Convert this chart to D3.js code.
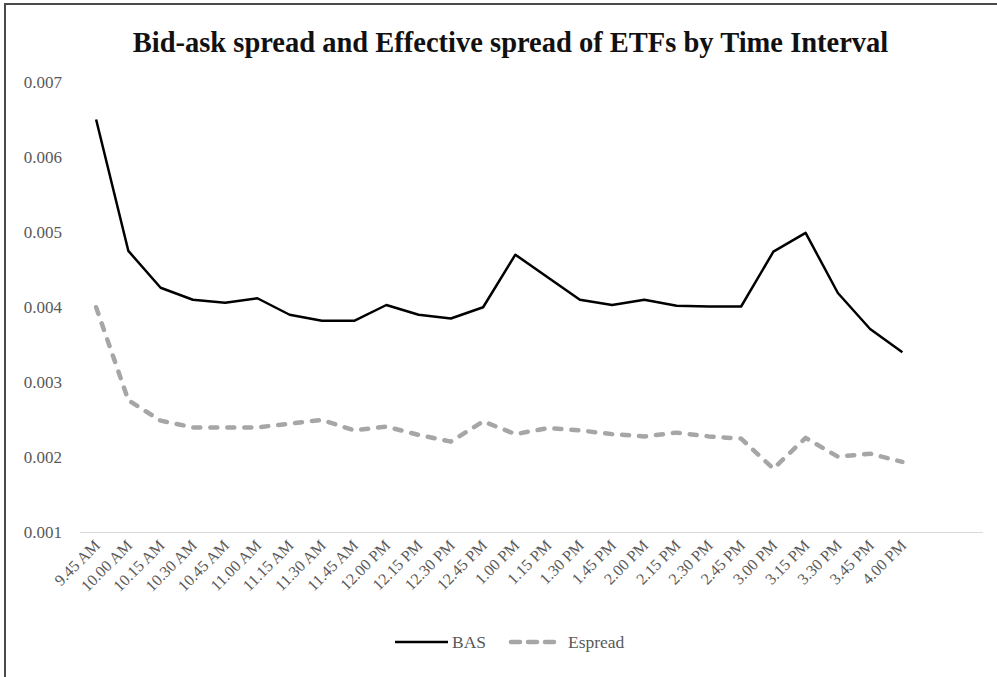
<!DOCTYPE html>
<html>
<head>
<meta charset="utf-8">
<script src="https://cdn.jsdelivr.net/npm/d3@7"></script>
<style>
  html, body { margin: 0; padding: 0; background: #fff; }
  svg { display: block; }
</style>
</head>
<body>
<svg id="chart" width="997" height="677"></svg>
<script>
// Time intervals (x categories)
const times = ["9.45 AM","10.00 AM","10.15 AM","10.30 AM","10.45 AM","11.00 AM","11.15 AM",
  "11.30 AM","11.45 AM","12.00 PM","12.15 PM","12.30 PM","12.45 PM","1.00 PM","1.15 PM",
  "1.30 PM","1.45 PM","2.00 PM","2.15 PM","2.30 PM","2.45 PM","3.00 PM","3.15 PM",
  "3.30 PM","3.45 PM","4.00 PM"];

// Bid-ask spread
const bas = [0.00650,0.00475,0.00426,0.00410,0.00406,0.00412,0.00390,0.00382,0.00382,
  0.00403,0.00390,0.00385,0.00400,0.00470,0.00440,0.00410,0.00403,0.00410,0.00402,
  0.00401,0.00401,0.00474,0.00499,0.00419,0.00371,0.00340];

// Effective spread
const espread = [0.00400,0.00276,0.00249,0.00240,0.00240,0.00240,0.00245,0.00250,0.00236,
  0.00241,0.00230,0.00221,0.00248,0.00231,0.00239,0.00236,0.00231,0.00228,0.00233,
  0.00228,0.00225,0.00185,0.00226,0.00201,0.00205,0.00194];

const yTicks = [0.001,0.002,0.003,0.004,0.005,0.006,0.007];

const svg = d3.select("#chart");
const W = 997, H = 677;
const plot = { left: 80, right: 983, top: 82, bottom: 532.5 };
const serif = "'Liberation Serif', 'Times New Roman', serif";

// frame edges
svg.append("line").attr("x1", 5).attr("x2", 5).attr("y1", 3).attr("y2", H)
  .attr("stroke", "#4a4a4a").attr("stroke-width", 2);
svg.append("line").attr("x1", 4).attr("x2", W).attr("y1", 4).attr("y2", 4)
  .attr("stroke", "#4a4a4a").attr("stroke-width", 2);

// title
svg.append("text")
  .attr("x", 510.5).attr("y", 52)
  .attr("text-anchor", "middle")
  .attr("font-family", serif)
  .attr("font-weight", "bold")
  .attr("font-size", 28.5)
  .attr("fill", "#111")
  .text("Bid-ask spread and Effective spread of ETFs by Time Interval");

// category axis has two trailing empty slots
const slots = times.concat(["", " "]);
const x = d3.scaleBand().domain(slots).range([plot.left, plot.right]);
const cx = d => x(d) + x.bandwidth() / 2;

const y = d3.scaleLinear().domain([0.001, 0.007]).range([plot.bottom, plot.top]);

// y tick labels
const yAxis = svg.append("g").attr("transform", `translate(${plot.left},0)`)
  .call(d3.axisLeft(y).tickValues(yTicks).tickFormat(d3.format(".3f")).tickSize(0).tickPadding(18));
yAxis.select(".domain").remove();
yAxis.selectAll("text")
  .attr("font-family", serif)
  .attr("font-size", 17)
  .attr("fill", "#595959");

// category axis line
svg.append("line")
  .attr("x1", plot.left).attr("x2", plot.right)
  .attr("y1", y(0.001)).attr("y2", y(0.001))
  .attr("stroke", "#d9d9d9").attr("stroke-width", 1.2);

// x tick labels, rotated
const xAxis = svg.append("g").attr("transform", `translate(0,${plot.bottom})`)
  .call(d3.axisBottom(x).tickValues(times).tickSize(0).tickPadding(0));
xAxis.select(".domain").remove();
xAxis.selectAll("text")
  .attr("font-family", serif)
  .attr("font-size", 16)
  .attr("fill", "#595959")
  .attr("text-anchor", "end")
  .attr("dy", 0)
  .attr("transform", "translate(5,14) rotate(-45)");

// series lines
const line = d3.line().x((d, i) => cx(times[i])).y(d => y(d));

svg.append("path").datum(espread)
  .attr("d", line)
  .attr("fill", "none")
  .attr("stroke", "#a6a6a6")
  .attr("stroke-width", 4.5)
  .attr("stroke-dasharray", "7,10")
  .attr("stroke-linecap", "round")
  .attr("stroke-linejoin", "round");

svg.append("path").datum(bas)
  .attr("d", line)
  .attr("fill", "none")
  .attr("stroke", "#000")
  .attr("stroke-width", 2.5)
  .attr("stroke-linejoin", "round");

// legend
const legY = 642;
const legend = svg.append("g");
legend.append("line").attr("x1", 395).attr("x2", 448).attr("y1", legY).attr("y2", legY)
  .attr("stroke", "#000").attr("stroke-width", 2.5);
legend.append("text").attr("x", 452).attr("y", legY + 6)
  .attr("font-family", serif)
  .attr("font-size", 17.5).attr("fill", "#595959").text("BAS");
legend.append("line").attr("x1", 511).attr("x2", 560).attr("y1", legY).attr("y2", legY)
  .attr("stroke", "#a6a6a6").attr("stroke-width", 4.5)
  .attr("stroke-dasharray", "9,8").attr("stroke-linecap", "round");
legend.append("text").attr("x", 568).attr("y", legY + 6)
  .attr("font-family", serif)
  .attr("font-size", 17.5).attr("fill", "#595959").text("Espread");
</script>
</body>
</html>
